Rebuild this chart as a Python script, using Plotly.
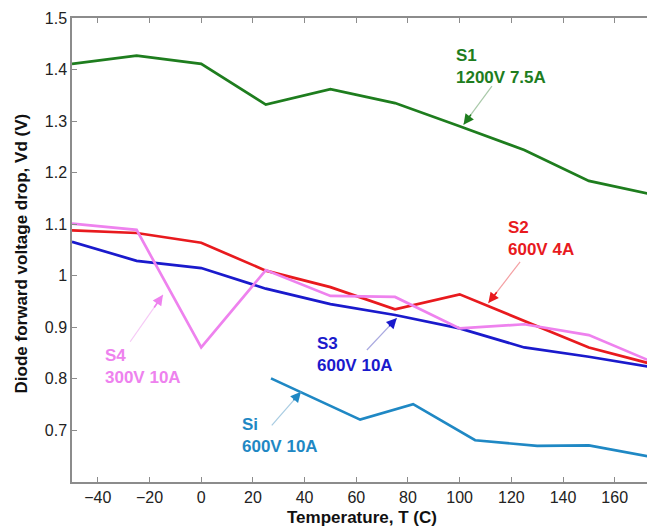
import plotly.graph_objects as go

# ---- data ----
T_grid = [-50, -25, 0, 25, 50, 75, 100, 125, 150, 175]
s1_vd = [1.411, 1.427, 1.411, 1.332, 1.362, 1.335, 1.290, 1.244, 1.184, 1.157]
s2_vd = [1.088, 1.083, 1.064, 1.010, 0.978, 0.935, 0.964, 0.912, 0.861, 0.828]
s3_vd = [1.066, 1.029, 1.015, 0.975, 0.945, 0.924, 0.898, 0.861, 0.843, 0.822]
s4_vd = [1.101, 1.089, 0.861, 1.011, 0.961, 0.959, 0.898, 0.906, 0.885, 0.832]
si_T = [27, 61.5, 82, 106, 130, 150, 175]
si_vd = [0.801, 0.721, 0.751, 0.681, 0.670, 0.671, 0.648]

x_ticks = [-40, -20, 0, 20, 40, 60, 80, 100, 120, 140, 160]
y_ticks = [0.7, 0.8, 0.9, 1.0, 1.1, 1.2, 1.3, 1.4, 1.5]
y_tick_text = ["0.7", "0.8", "0.9", "1", "1.1", "1.2", "1.3", "1.4", "1.5"]

labels = ["S1<br>1200V 7.5A", "S2<br>600V 4A", "S3<br>600V 10A", "S4<br>300V 10A", "Si<br>600V 10A"]
label_pos = [(98.0, 1.450), (118.0, 1.116), (44.0, 0.891), (-38.0, 0.868), (15.2, 0.734)]
arrow_tail = [(112.5, 1.368), (123.4, 1.027), (64.1, 0.856), (-27.5, 0.872), (27.3, 0.710)]
arrow_head = [(101.5, 1.293), (111.1, 0.947), (75.7, 0.918), (-14.8, 0.963), (38.6, 0.775)]

colors = ["#1e7d1e", "#e81a1e", "#1a1acc", "#ee82ee", "#1f88c4"]
light = ["#a9c9a9", "#f4a0a3", "#a9a9e0", "#f6c8f6", "#a8cce2"]

FONT = "Liberation Sans, Arial, sans-serif"
X_RANGE = [-50, 172.5]
Y_RANGE = [0.6, 1.5]

fig = go.Figure()
series = [(T_grid, s1_vd), (T_grid, s2_vd), (T_grid, s3_vd), (T_grid, s4_vd), (si_T, si_vd)]
for (xs, ys), c in zip(series, colors):
    fig.add_trace(go.Scatter(x=xs, y=ys, mode="lines", line=dict(color=c, width=2.7),
                             showlegend=False, hoverinfo="skip"))

annotations = []
shapes = []
for lab, (lx, ly), (tx, ty), (hx, hy), c, lc in zip(labels, label_pos, arrow_tail, arrow_head, colors, light):
    annotations.append(dict(x=lx, y=ly, xref="x", yref="y", text="<b>%s</b>" % lab,
                            showarrow=False, xanchor="left", yanchor="top", align="left",
                            font=dict(family=FONT, size=17, color=c)))
    shapes.append(dict(type="line", xref="x", yref="y", x0=tx, y0=ty, x1=hx, y1=hy,
                       line=dict(color=lc, width=1.2)))
    # short strong-coloured arrow head
    mx = hx + (tx - hx) * 0.3
    my = hy + (ty - hy) * 0.3
    annotations.append(dict(x=hx, y=hy, ax=mx, ay=my, xref="x", yref="y", axref="x", ayref="y",
                            text="", showarrow=True, arrowhead=2, arrowsize=1.3, arrowwidth=1.6,
                            arrowcolor=c))

annotations.append(dict(x=0.5046, y=-0.076, xref="paper", yref="paper",
                        text="<b>Temperature, T (C)</b>", showarrow=False,
                        xanchor="center", yanchor="middle",
                        font=dict(family=FONT, size=17, color="#111")))
annotations.append(dict(x=-0.088, y=0.4935, xref="paper", yref="paper",
                        text="<b>Diode forward voltage drop, Vd (V)</b>", showarrow=False,
                        textangle=-90, xanchor="center", yanchor="middle",
                        font=dict(family=FONT, size=17, color="#111")))

axis_common = dict(showline=True, linecolor="#8c8c8c", linewidth=1.5,
                   ticks="inside", ticklen=5, tickcolor="#8c8c8c", showgrid=False,
                   zeroline=False, tickfont=dict(family=FONT, size=16, color="#222"))

fig.update_layout(
    width=647, height=529,
    margin=dict(l=72, r=0, t=18, b=47),
    paper_bgcolor="white", plot_bgcolor="white",
    xaxis=dict(range=X_RANGE, tickvals=x_ticks, automargin=False, mirror="ticks", **axis_common),
    yaxis=dict(range=Y_RANGE, tickvals=y_ticks, ticktext=y_tick_text, automargin=False,
               mirror=False, **axis_common),
    annotations=annotations, shapes=shapes,
)

# remove the page's default body margin so the figure sits at the window's top-left
fig.write_html("out.html", config={"displayModeBar": False},
               post_script="document.body.style.margin='0';document.body.style.overflow='hidden';")
